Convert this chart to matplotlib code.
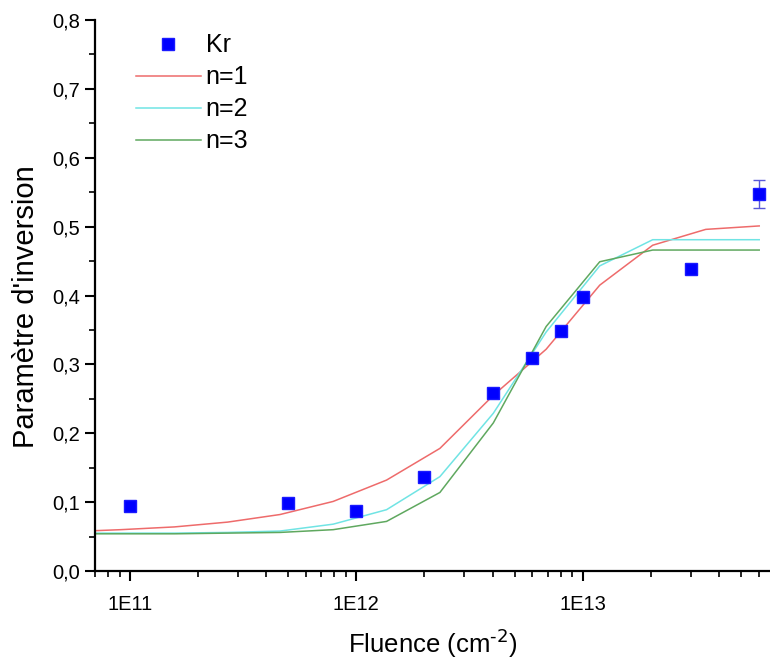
import numpy as np
import matplotlib
matplotlib.use("Agg")
import matplotlib.pyplot as plt
from matplotlib.ticker import FixedLocator, FuncFormatter, LogLocator, MultipleLocator

plt.rcParams['font.family'] = ['Liberation Sans', 'DejaVu Sans']

# measured points (Kr)
kr_fluence = [1e11, 5e11, 1e12, 2e12, 4e12, 6e12, 8e12, 1e13, 3e13, 6e13]
kr_param = [0.095, 0.099, 0.087, 0.137, 0.258, 0.309, 0.349, 0.398, 0.439, 0.547]
kr_err = [0, 0, 0, 0, 0, 0, 0, 0, 0, 0.020]

# model curves
model_fluence = [5.3e10, 9.1e10, 1.57e11, 2.7e11, 4.6e11, 7.9e11, 1.36e12,
                 2.34e12, 4.03e12, 6.9e12, 1.19e13, 2.04e13, 3.5e13, 6.03e13]
n1 = [0.057, 0.060, 0.064, 0.071, 0.082, 0.101, 0.132,
      0.178, 0.255, 0.322, 0.415, 0.473, 0.496, 0.501]
n2 = [0.055, 0.055, 0.055, 0.056, 0.058, 0.068, 0.089,
      0.137, 0.229, 0.347, 0.443, 0.481, 0.481, 0.481]
n3 = [0.054, 0.054, 0.054, 0.055, 0.056, 0.060, 0.072,
      0.114, 0.215, 0.355, 0.449, 0.466, 0.466, 0.466]

fig = plt.figure(figsize=(7.7, 6.66), dpi=100)
ax = fig.add_axes([95 / 770, 1 - 571 / 666, 1 - 95 / 770, (571 - 20) / 666])

ax.plot(model_fluence, n1, color='#ee6b6b', lw=1.1, label='n=1')
ax.plot(model_fluence, n2, color='#70e4e4', lw=1.1, label='n=2')
ax.plot(model_fluence, n3, color='#5fa85f', lw=1.1, label='n=3')
ax.errorbar(kr_fluence, kr_param, yerr=kr_err, fmt='none', ecolor='#5a5ad8',
            elinewidth=1, capsize=4, capthick=1)
ax.plot(kr_fluence, kr_param, 's', color='#0000ff', ms=8.5, mec='#1a1aff', label='Kr', zorder=5)

ax.set_xscale('log')
ax.set_xlim(7.0e10, 6.73e13)
ax.set_ylim(0, 0.8)

ax.xaxis.set_major_locator(FixedLocator([1e11, 1e12, 1e13]))
ax.xaxis.set_major_formatter(FuncFormatter(lambda v, p: "1E%d" % round(np.log10(v))))
ax.xaxis.set_minor_locator(LogLocator(base=10, subs=np.arange(2, 10)))
ax.xaxis.set_minor_formatter(FuncFormatter(lambda v, p: ""))
ax.yaxis.set_major_locator(MultipleLocator(0.1))
ax.yaxis.set_minor_locator(MultipleLocator(0.05))
ax.yaxis.set_major_formatter(FuncFormatter(lambda v, p: ("%.1f" % v).replace('.', ',')))

for s in ['top', 'right']:
    ax.spines[s].set_visible(False)
for s in ['left', 'bottom']:
    ax.spines[s].set_linewidth(1.6)
ax.tick_params(which='major', direction='out', length=7, width=1.5, labelsize=14.5, pad=4)
ax.tick_params(axis='x', which='major', pad=10)
ax.tick_params(which='minor', direction='out', length=4, width=1.2)

ax.set_xlabel(r"Fluence (cm$^{\text{-2}}$)", fontsize=18.5, labelpad=9)
ax.set_ylabel("Paramètre d'inversion", fontsize=21)
ax.yaxis.set_label_coords(-0.082, 0.479)

handles, labels = ax.get_legend_handles_labels()
order = [3, 0, 1, 2]
ax.legend([handles[i] for i in order], [labels[i] for i in order],
          loc='upper left', bbox_to_anchor=(123 / 770, 1 - 21 / 666),
          bbox_transform=fig.transFigure, frameon=False, fontsize=18,
          handlelength=2.6, handletextpad=0.2, labelspacing=0.32, borderpad=0)

fig.savefig("out.png", dpi=100)
